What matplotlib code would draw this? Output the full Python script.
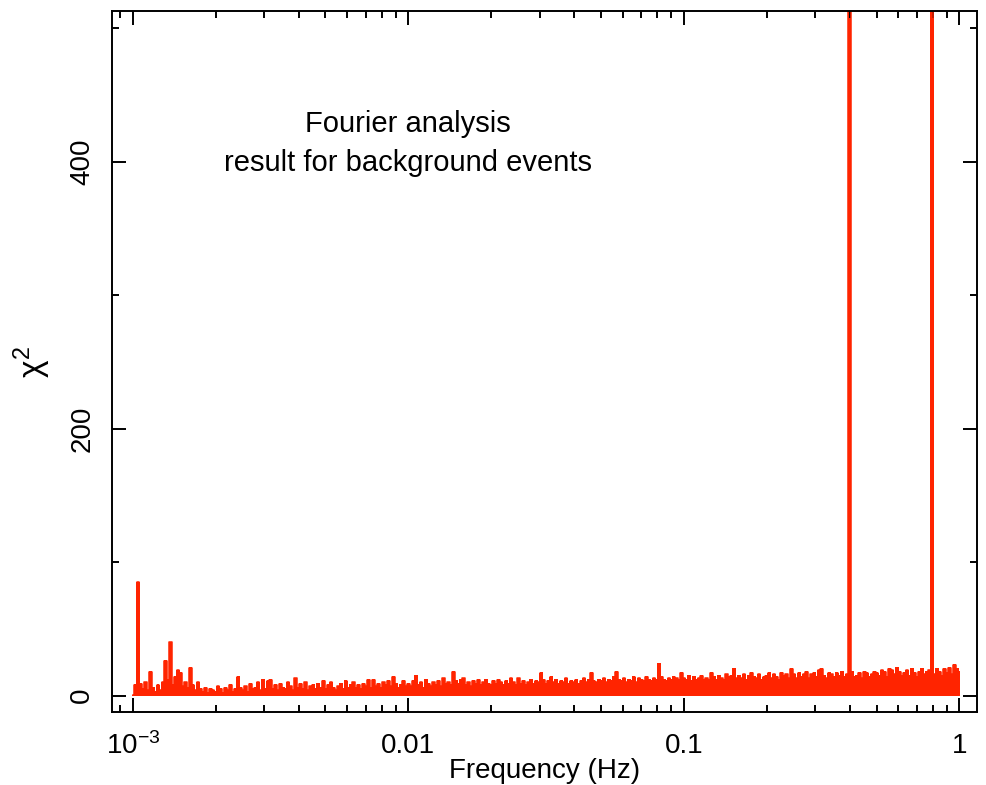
import numpy as np
import matplotlib.pyplot as plt
from matplotlib.ticker import FixedLocator, LogLocator, NullFormatter

plt.rcParams['font.family'] = ['Liberation Sans', 'DejaVu Sans']
plt.rcParams['mathtext.fontset'] = 'custom'
plt.rcParams['mathtext.rm'] = 'Liberation Sans'
plt.rcParams['mathtext.it'] = 'Liberation Sans'

# chi^2 per frequency bin, 110 bins per decade from 1e-3 Hz to 1 Hz
chi2 = [
    0.5, 8, 85, 9, 5, 10, 4, 18, 6, 3, 8,
    4, 10, 26, 12, 40, 8, 14, 19, 17, 7, 10,
    6, 21, 8, 4, 10, 5, 3, 6, 2, 5, 4,
    3, 7, 5, 2, 6, 4, 8, 3, 5, 14, 6,
    4, 7, 3, 9, 5, 6, 10, 4, 12, 5, 11,
    12, 5, 8, 4, 9, 6, 5, 10, 7, 4, 13,
    6, 9, 5, 10, 4, 7, 8, 5, 9, 6, 11,
    5, 8, 10, 6, 4, 7, 9, 5, 11, 6, 8,
    10, 6, 8, 5, 9, 7, 12, 6, 12, 7, 9,
    6, 10, 8, 11, 7, 14, 9, 6, 8, 11, 7,
    9, 7, 11, 15, 8, 10, 6, 12, 9, 7, 10,
    8, 11, 7, 13, 9, 10, 8, 18, 11, 9, 12,
    13, 8, 10, 7, 11, 9, 12, 8, 10, 12, 9,
    8, 11, 9, 12, 10, 8, 11, 9, 13, 10, 8,
    13, 9, 11, 8, 10, 12, 9, 11, 10, 17, 12,
    9, 11, 14, 10, 12, 9, 11, 10, 13, 9, 11,
    10, 12, 9, 11, 13, 10, 12, 17, 11, 10, 12,
    11, 13, 10, 12, 11, 14, 18, 12, 11, 13, 10,
    12, 11, 14, 10, 13, 12, 11, 14, 12, 11, 13,
    12, 24, 14, 12, 11, 13, 12, 14, 13, 12, 17,
    13, 12, 15, 11, 14, 12, 13, 15, 12, 13, 12,
    17, 14, 12, 15, 13, 12, 16, 14, 15, 20, 13,
    15, 13, 16, 12, 15, 17, 14, 13, 16, 12, 14,
    15, 17, 13, 16, 14, 12, 17, 15, 16, 13, 20,
    16, 13, 17, 14, 16, 18, 13, 16, 17, 14, 19,
    20, 15, 13, 17, 16, 14, 17, 15, 18, 14, 16,
    3000, 18, 14, 15, 17, 13, 18, 17, 14, 16, 18,
    17, 15, 19, 18, 14, 20, 19, 16, 21, 18, 15,
    17, 19, 15, 20, 17, 14, 18, 20, 16, 18, 19,
    3000, 16, 20, 18, 15, 20, 17, 21, 16, 23, 20,
    18,
]
freq = np.geomspace(1e-3, 1.0, len(chi2))

xticks = [1e-3, 1e-2, 1e-1, 1.0]
xticklabels = [r'$10^{-3}$', '0.01', '0.1', '1']
yticks = [0, 200, 400]
yminor = [100, 300, 500]

red = '#ff2400'

fig = plt.figure(figsize=(9.86, 7.85), dpi=100)
ax = fig.add_axes([0.1136, 0.0934, 0.877, 0.8926])

ax.fill_between(freq, 0, chi2, step='mid', color=red, lw=0, antialiased=False)
ax.step(freq, chi2, where='mid', color=red, lw=1.1)

ax.set_xscale('log')
ax.set_xlim(8.4e-4, 1.155)
ax.set_ylim(-12, 513)

ax.set_xticks(xticks)
ax.set_xticklabels(xticklabels)
ax.xaxis.set_minor_locator(LogLocator(base=10, subs=np.arange(2, 10)))
ax.xaxis.set_minor_formatter(NullFormatter())
ax.set_yticks(yticks)
ax.yaxis.set_minor_locator(FixedLocator(yminor))
for lbl in ax.get_yticklabels():
    lbl.set_rotation(90)
    lbl.set_va('center')

ax.tick_params(which='both', direction='in', top=True, right=True, width=1.4, labelsize=20)
ax.tick_params(which='major', length=10)
ax.tick_params(which='minor', length=5)
ax.tick_params(axis='x', pad=15)
ax.tick_params(axis='y', pad=12)
for s in ax.spines.values():
    s.set_linewidth(1.4)

ax.set_xlabel('Frequency (Hz)', fontsize=20)
ax.xaxis.set_label_coords(0.5, -0.066)
ax.set_ylabel(r'$\chi^2$', fontsize=24)
ax.yaxis.set_label_coords(-0.068, 0.5)

ax.text(0.342, 0.839, 'Fourier analysis', transform=ax.transAxes,
        ha='center', va='center', fontsize=21)
ax.text(0.342, 0.783, 'result for background events', transform=ax.transAxes,
        ha='center', va='center', fontsize=21)

fig.savefig('out.png', dpi=100)
